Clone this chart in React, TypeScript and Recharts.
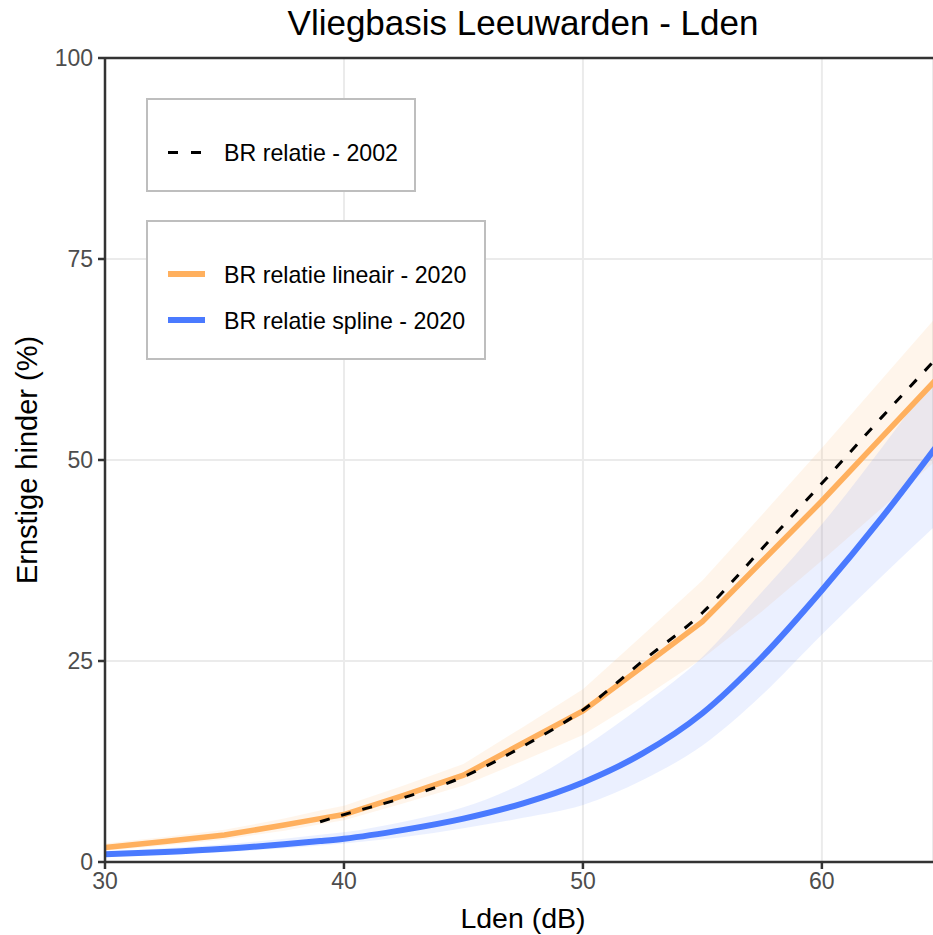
import {
  ComposedChart,
  Area,
  Line,
  XAxis,
  YAxis,
  CartesianGrid,
  ReferenceLine,
} from "recharts";

// Lden (dB) sample points
const lden = [30, 32.5, 35, 37.5, 39, 40, 42.5, 45, 47.5, 50, 52.5, 55, 57.5, 60, 62.5, 65];

// BR relatie lineair - 2020 (orange) + band
const lineair = [1.8, 2.55, 3.35, 4.6, 5.4, 5.9, 8.3, 10.8, 14.8, 18.8, 24.3, 29.9, 37.4, 44.9, 52.8, 60.7];
const lineairLow = [1.4, 2.05, 2.8, 3.9, 4.7, 5.2, 7.3, 9.5, 12.6, 15.8, 20.4, 25.3, 31.2, 37.5, 44.0, 50.5];
const lineairHigh = [2.3, 3.1, 4.0, 5.4, 6.4, 7.0, 9.5, 12.2, 16.8, 21.5, 28.2, 35.0, 43.2, 51.5, 60.0, 68.5];

// BR relatie spline - 2020 (blue) + band
const spline = [0.95, 1.25, 1.65, 2.2, 2.6, 2.9, 4.0, 5.4, 7.3, 9.9, 13.5, 18.5, 25.5, 33.8, 42.8, 52.5];
const splineLow = [0.7, 0.9, 1.25, 1.7, 2.05, 2.3, 3.1, 4.2, 5.5, 7.1, 10.2, 14.5, 20.8, 28.3, 35.5, 42.5];
const splineHigh = [1.3, 1.7, 2.2, 2.9, 3.4, 3.7, 5.0, 6.8, 9.8, 14.2, 19.5, 25.5, 33.6, 42.0, 51.5, 61.5];

// BR relatie - 2002 (dashed), starts at 39 dB
const br2002 = [null, null, null, null, 5.0, 5.9, 8.0, 10.6, 14.4, 18.9, 25.0, 31.0, 39.0, 47.1, 55.3, 63.3];

const xTicks = [30, 40, 50, 60];
const yTicks = [0, 25, 50, 75, 100];

const ORANGE = "#FFB05E";
const BLUE = "#4A7AFF";
const FONT = "'Liberation Sans', Arial, Helvetica, sans-serif";

const data = lden.map((x, i) => ({
  x,
  lineair: lineair[i],
  lineairBand: [lineairLow[i], lineairHigh[i]],
  spline: spline[i],
  splineBand: [splineLow[i], splineHigh[i]],
  br2002: br2002[i],
}));

export default function App() {
  return (
    <div
      style={{
        position: "absolute",
        left: 0,
        top: 0,
        width: 933,
        height: 935,
        background: "#fff",
        fontFamily: FONT,
        overflow: "hidden",
      }}
    >
      <ComposedChart
        width={933}
        height={935}
        data={data}
        margin={{ top: 58, right: 0, left: 0, bottom: 0 }}
      >
        <CartesianGrid stroke="#EBEBEB" strokeWidth={2} />
        <XAxis
          type="number"
          dataKey="x"
          domain={[30, 64.65]}
          allowDataOverflow
          ticks={xTicks}
          height={73}
          tickSize={7}
          tickMargin={4}
          axisLine={{ stroke: "#333333", strokeWidth: 2.5 }}
          tickLine={{ stroke: "#333333", strokeWidth: 2.5 }}
          tick={{ fill: "#4D4D4D", fontSize: 23 }}
        />
        <YAxis
          type="number"
          domain={[0, 100]}
          ticks={yTicks}
          width={105}
          tickSize={7}
          tickMargin={5}
          axisLine={{ stroke: "#333333", strokeWidth: 2.5 }}
          tickLine={{ stroke: "#333333", strokeWidth: 2.5 }}
          tick={{ fill: "#4D4D4D", fontSize: 23 }}
        />
        <ReferenceLine y={100} stroke="#333333" strokeWidth={2.5} />
        <Area
          dataKey="lineairBand"
          type="linear"
          stroke="none"
          fill={ORANGE}
          fillOpacity={0.12}
          isAnimationActive={false}
          activeDot={false}
        />
        <Area
          dataKey="splineBand"
          type="monotone"
          stroke="none"
          fill={BLUE}
          fillOpacity={0.11}
          isAnimationActive={false}
          activeDot={false}
        />
        <Line
          dataKey="spline"
          type="monotone"
          stroke={BLUE}
          strokeWidth={6}
          dot={false}
          activeDot={false}
          isAnimationActive={false}
        />
        <Line
          dataKey="lineair"
          type="linear"
          stroke={ORANGE}
          strokeWidth={5.5}
          dot={false}
          activeDot={false}
          isAnimationActive={false}
        />
        <Line
          dataKey="br2002"
          type="monotone"
          stroke="#000"
          strokeWidth={3}
          strokeDasharray="10 12"
          dot={false}
          activeDot={false}
          isAnimationActive={false}
        />
      </ComposedChart>

      {/* titles and legends */}
      <svg
        width={933}
        height={935}
        style={{ position: "absolute", left: 0, top: 0, pointerEvents: "none" }}
        fontFamily={FONT}
      >
        <text x={523} y={35} textAnchor="middle" fontSize={35} fill="#000">
          Vliegbasis Leeuwarden - Lden
        </text>
        <text x={523} y={928} textAnchor="middle" fontSize={28.5} fill="#000">
          Lden (dB)
        </text>
        <text
          transform="translate(37,460) rotate(-90)"
          textAnchor="middle"
          fontSize={29}
          fill="#000"
        >
          Ernstige hinder (%)
        </text>

        <rect x={147} y={99} width={268} height={92} fill="#fff" stroke="#BEBEBE" strokeWidth={2} />
        <line x1={168} x2={205} y1={152.5} y2={152.5} stroke="#000" strokeWidth={3} strokeDasharray="10 13" />
        <text x={224} y={161} fontSize={23.2} fill="#000">
          BR relatie - 2002
        </text>

        <rect x={147} y={221} width={338} height={138} fill="#fff" stroke="#BEBEBE" strokeWidth={2} />
        <line x1={168} x2={205} y1={274} y2={274} stroke={ORANGE} strokeWidth={6} />
        <text x={224} y={282.5} fontSize={23.2} fill="#000">
          BR relatie lineair - 2020
        </text>
        <line x1={168} x2={205} y1={320} y2={320} stroke={BLUE} strokeWidth={6} />
        <text x={224} y={328.5} fontSize={23.2} fill="#000">
          BR relatie spline - 2020
        </text>
      </svg>
    </div>
  );
}
